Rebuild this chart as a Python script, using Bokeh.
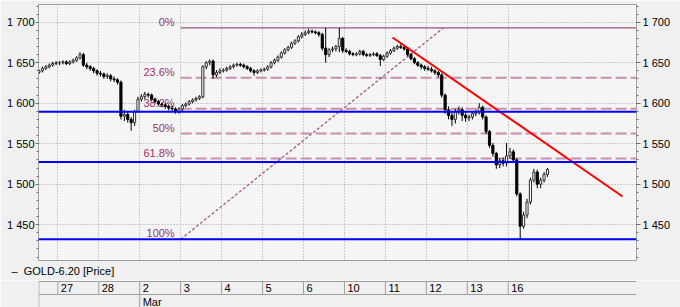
from bokeh.plotting import figure
from bokeh.models import (Range1d, LinearAxis, Grid, FixedTicker, SingleIntervalTicker,
                          CustomJSTickFormatter, Label, Span, ColumnDataSource, Title)
from bokeh.layouts import column
from bokeh.embed import file_html
from bokeh.resources import INLINE
from bokeh.core.properties import value

# ---------------- data ----------------
day_labels = ["27", "28", "2", "3", "4", "5", "6", "10", "11", "12", "13", "16"]
month_label = "Mar"
month_day_index = 2          # "Mar" sits under day "2"
bars_per_day = 12
lead_bars = 6                # partial session before day 27

opens = [
    1638, 1640, 1643, 1645, 1647, 1649,
    1650, 1650, 1651, 1649, 1651, 1653, 1656, 1660, 1647, 1645, 1643, 1640,
    1637, 1636, 1633, 1634, 1630, 1629, 1626, 1584, 1586, 1580, 1576, 1590,
    1605, 1608, 1611, 1610, 1605, 1602, 1599, 1598, 1596, 1594, 1593, 1590,
    1593, 1597, 1599, 1602, 1604, 1606, 1608, 1645, 1650, 1652, 1635, 1638,
    1640, 1641, 1643, 1645, 1647, 1648, 1647, 1645, 1643, 1640, 1638, 1640,
    1641, 1642, 1645, 1650, 1653, 1657, 1662, 1666, 1669, 1674, 1677, 1682,
    1685, 1687, 1689, 1688, 1687, 1685, 1668, 1660, 1666, 1667, 1670, 1680,
    1665, 1664, 1661, 1660, 1661, 1664, 1660, 1659, 1660, 1661, 1659, 1654,
    1658, 1662, 1665, 1668, 1670, 1669, 1667, 1660, 1655, 1650, 1647, 1645,
    1643, 1642, 1640, 1638, 1635, 1610, 1592, 1585, 1580, 1590, 1592, 1585,
    1582, 1583, 1587, 1589, 1595, 1583, 1565, 1548, 1538, 1524, 1529, 1526,
    1535, 1540, 1530, 1488, 1448, 1462, 1478, 1505, 1515, 1500, 1505, 1512,
]
highs = [
    1642, 1645, 1647, 1649, 1651, 1652,
    1652, 1653, 1653, 1653, 1655, 1658, 1663, 1662, 1650, 1647, 1645, 1642,
    1640, 1638, 1637, 1636, 1633, 1631, 1628, 1592, 1590, 1583, 1592, 1608,
    1611, 1614, 1613, 1612, 1607, 1604, 1601, 1600, 1598, 1597, 1595, 1595,
    1599, 1601, 1604, 1606, 1608, 1610, 1647, 1652, 1654, 1654, 1641, 1643,
    1643, 1645, 1647, 1649, 1650, 1650, 1649, 1647, 1645, 1642, 1642, 1643,
    1644, 1647, 1652, 1655, 1659, 1664, 1668, 1671, 1676, 1679, 1684, 1688,
    1690, 1692, 1691, 1690, 1689, 1687, 1693, 1668, 1670, 1672, 1693, 1682,
    1668, 1666, 1663, 1663, 1666, 1666, 1662, 1662, 1663, 1663, 1661, 1660,
    1664, 1667, 1670, 1672, 1673, 1671, 1669, 1662, 1657, 1652, 1649, 1647,
    1646, 1645, 1642, 1640, 1637, 1612, 1596, 1590, 1593, 1596, 1595, 1588,
    1586, 1590, 1592, 1600, 1597, 1585, 1567, 1551, 1540, 1532, 1533, 1551,
    1545, 1543, 1532, 1490, 1466, 1482, 1508, 1519, 1518, 1508, 1515, 1520,
]
lows = [
    1636, 1638, 1641, 1643, 1645, 1647,
    1647, 1648, 1647, 1647, 1649, 1651, 1654, 1645, 1642, 1640, 1637, 1634,
    1633, 1630, 1630, 1627, 1626, 1623, 1580, 1578, 1576, 1566, 1572, 1588,
    1602, 1605, 1607, 1603, 1600, 1597, 1595, 1593, 1591, 1590, 1587, 1587,
    1590, 1595, 1597, 1600, 1602, 1604, 1606, 1642, 1647, 1630, 1632, 1636,
    1638, 1639, 1641, 1643, 1645, 1645, 1643, 1641, 1638, 1634, 1636, 1638,
    1639, 1640, 1643, 1648, 1651, 1655, 1660, 1664, 1667, 1672, 1675, 1680,
    1683, 1685, 1686, 1685, 1682, 1665, 1650, 1657, 1663, 1664, 1663, 1662,
    1662, 1659, 1658, 1658, 1659, 1658, 1657, 1657, 1658, 1657, 1646, 1652,
    1656, 1660, 1663, 1666, 1667, 1665, 1658, 1653, 1648, 1645, 1642, 1640,
    1640, 1638, 1635, 1632, 1607, 1587, 1580, 1572, 1575, 1586, 1578, 1577,
    1578, 1580, 1584, 1586, 1580, 1562, 1545, 1534, 1519, 1520, 1522, 1522,
    1531, 1527, 1485, 1432, 1445, 1458, 1475, 1502, 1495, 1495, 1502, 1509,
]
closes = [
    1640, 1643, 1645, 1647, 1649, 1650,
    1650, 1651, 1649, 1651, 1653, 1656, 1660, 1647, 1645, 1643, 1640, 1637,
    1636, 1633, 1634, 1630, 1629, 1626, 1584, 1586, 1580, 1576, 1590, 1605,
    1608, 1611, 1610, 1605, 1602, 1599, 1598, 1596, 1594, 1593, 1590, 1593,
    1597, 1599, 1602, 1604, 1606, 1608, 1645, 1650, 1652, 1635, 1638, 1640,
    1641, 1643, 1645, 1647, 1648, 1647, 1645, 1643, 1640, 1638, 1640, 1641,
    1642, 1645, 1650, 1653, 1657, 1662, 1666, 1669, 1674, 1677, 1682, 1685,
    1687, 1689, 1688, 1687, 1685, 1668, 1660, 1666, 1667, 1670, 1680, 1665,
    1664, 1661, 1660, 1661, 1664, 1660, 1659, 1660, 1661, 1659, 1654, 1658,
    1662, 1665, 1668, 1670, 1669, 1667, 1660, 1655, 1650, 1647, 1645, 1643,
    1642, 1640, 1638, 1635, 1610, 1592, 1585, 1580, 1590, 1592, 1585, 1582,
    1583, 1587, 1589, 1595, 1583, 1565, 1548, 1538, 1524, 1529, 1526, 1535,
    1540, 1530, 1488, 1448, 1462, 1478, 1505, 1515, 1500, 1505, 1512, 1518.2,
]

fib_texts = ["0%", "23.6%", "38.2%", "50%", "61.8%", "100%"]
fib_ratios = [0.0, 0.236, 0.382, 0.5, 0.618, 1.0]
fib_high = 1693.0
fib_low = 1432.0
fib_anchor_x = [36.0, 113.0]      # in bar units (day "3" start -> upper anchor)
fib_anchor_y = [1432.0, 1693.0]

level_prices = [1589.6, 1527.4, 1432.0]
level_texts = ["1589.6", "1527.4", "1432.0"]
last_price = 1518.2
last_text = "1518.2"

trend_x = [98.1, 165.5]
trend_y = [1681.1, 1484.8]

series_name = "GOLD-6.20 [Price]"

# ---------------- layout helpers ----------------
FONT = "Liberation Sans"
DAY_PX = 40.95
DAY0_PX = 57.3


def px2x(px):
    return (px - DAY0_PX) * bars_per_day / DAY_PX


xl, xr = px2x(38), px2x(636)
y_bottom, y_top = 1405.8, 1721.9

xs = [i - lead_bars + 0.5 for i in range(len(closes))]
day_starts = [d * bars_per_day for d in range(len(day_labels))]

inc = [c >= o for o, c in zip(opens, closes)]
src_inc = ColumnDataSource(dict(
    x=[x for x, k in zip(xs, inc) if k],
    o=[v for v, k in zip(opens, inc) if k],
    c=[v for v, k in zip(closes, inc) if k]))
src_dec = ColumnDataSource(dict(
    x=[x for x, k in zip(xs, inc) if not k],
    o=[v for v, k in zip(opens, inc) if not k],
    c=[v for v, k in zip(closes, inc) if not k]))
src_wick = ColumnDataSource(dict(x=xs, h=highs, l=lows))

xrange = Range1d(xl, xr)

# ---------------- main chart ----------------
p = figure(width=680, height=280, x_range=xrange, y_range=Range1d(y_bottom, y_top),
           x_axis_type=None, y_axis_type=None, toolbar_location=None, output_backend="svg",
           min_border_left=38, min_border_right=44, min_border_top=4, min_border_bottom=20,
           background_fill_color="#f5f5f5", border_fill_color="#f0f0f0",
           outline_line_color="#a0a0a0")

fmt = CustomJSTickFormatter(code="""
const s = Math.round(tick).toString();
return s.length > 3 ? s.slice(0, s.length - 3) + ' ' + s.slice(s.length - 3) : s;
""")
yticker = SingleIntervalTicker(interval=50, num_minor_ticks=5)

for loc in ("left", "right"):
    ax = LinearAxis(ticker=yticker, formatter=fmt,
                    axis_line_color="#a0a0a0",
                    major_tick_line_color="#707070", minor_tick_line_color="#707070",
                    major_tick_in=0, minor_tick_in=0,
                    major_tick_out=4 if loc == "right" else 3,
                    minor_tick_out=2,
                    major_label_standoff=2 if loc == "right" else 1,
                    major_label_text_font=FONT, major_label_text_font_size="11px",
                    major_label_text_color="black")
    p.add_layout(ax, loc)

p.add_layout(Grid(dimension=1, ticker=yticker, grid_line_color="#a0a0a0", grid_line_dash="1 2"))
p.add_layout(Grid(dimension=0, ticker=FixedTicker(ticks=day_starts),
                  grid_line_color="#a0a0a0", grid_line_dash="1 2"))

# Fibonacci retracement
fib_prices = [fib_high - r * (fib_high - fib_low) for r in fib_ratios]
for r, fp in zip(fib_ratios, fib_prices):
    if r in (0.0, 1.0):
        p.segment(x0=[fib_anchor_x[0]], y0=[fp], x1=[xr], y1=[fp],
                  line_color="#a0507f", line_width=1.2)
    else:
        p.segment(x0=[fib_anchor_x[0]], y0=[fp], x1=[xr], y1=[fp],
                  line_color="#c890b0", line_width=2, line_dash="11 4")
p.line(fib_anchor_x, fib_anchor_y, line_color="#a85888", line_width=1.3, line_dash="3 2")
p.text(x=[fib_anchor_x[0]] * len(fib_prices), y=fib_prices, text=fib_texts,
       text_align="right", text_baseline="bottom", x_offset=-6,
       text_font=value(FONT), text_font_size="11px", text_color="#993366")

# candles
p.segment(x0="x", y0="l", x1="x", y1="h", source=src_wick, line_color="#000000", line_width=1)
p.vbar(x="x", width=0.62, top="c", bottom="o", source=src_inc,
       fill_color="#ffffff", line_color="#303030", line_width=1)
p.vbar(x="x", width=0.62, top="o", bottom="c", source=src_dec,
       fill_color="#000000", line_color="#000000", line_width=1)

# horizontal levels
for lp in level_prices:
    p.add_layout(Span(location=lp, dimension="width", line_color="#0000ff", line_width=2))

# trend line
p.line(trend_x, trend_y, line_color="#ff0000", line_width=2)

# price tags on right axis
tag_x = px2x(640)
p.add_layout(Label(x=tag_x, y=last_price, text=last_text, text_align="left", text_baseline="middle",
                   text_font=FONT, text_font_size="11px", text_color="black",
                   background_fill_color="#ffffff", border_line_color="#000000"))
for lp, lt in zip(level_prices, level_texts):
    p.add_layout(Label(x=tag_x, y=lp, text=lt, text_align="left", text_baseline="middle",
                       text_font=FONT, text_font_size="11px", text_color="white",
                       background_fill_color="#0000ff"))

# legend line below the frame
p.add_layout(Title(text="\u2013\u00a0\u00a0" + series_name, align="left", offset=-27, standoff=6,
                   text_font=FONT, text_font_size="11px", text_font_style="normal",
                   text_color="black", vertical_align="middle"), "below")

# ---------------- date band (frame aligned with the chart) ----------------
b = figure(width=680, height=27, x_range=xrange, y_range=Range1d(41, 14),
           x_axis_type=None, y_axis_type=None, toolbar_location=None, output_backend="svg",
           min_border_left=38, min_border_right=44, min_border_top=0, min_border_bottom=0,
           background_fill_color="#f0f0f0", border_fill_color="#f0f0f0",
           outline_line_color=None)

band = "#a0a0a0"
b.segment(x0=[xl, xl], y0=[15, 28], x1=[xr, xr], y1=[15, 28], line_color=band, line_width=1)
b.segment(x0=[xl + 0.1] + day_starts, y0=[15] * (len(day_starts) + 1),
          x1=[xl + 0.1] + day_starts, y1=[28] * (len(day_starts) + 1), line_color=band, line_width=1)
mstart = day_starts[month_day_index]
b.segment(x0=[xl + 0.1, mstart], y0=[28, 28], x1=[xl + 0.1, mstart], y1=[41, 41],
          line_color=band, line_width=1)

b.text(x=day_starts, y=[21.8] * len(day_starts), text=day_labels, x_offset=3,
       text_align="left", text_baseline="middle",
       text_font=value(FONT), text_font_size="11px", text_color="black")
b.text(x=[mstart], y=[35.3], text=[month_label], x_offset=3,
       text_align="left", text_baseline="middle",
       text_font=value(FONT), text_font_size="11px", text_color="black")

layout = column(p, b, spacing=0)
open("out.html", "w").write(file_html(layout, INLINE))
